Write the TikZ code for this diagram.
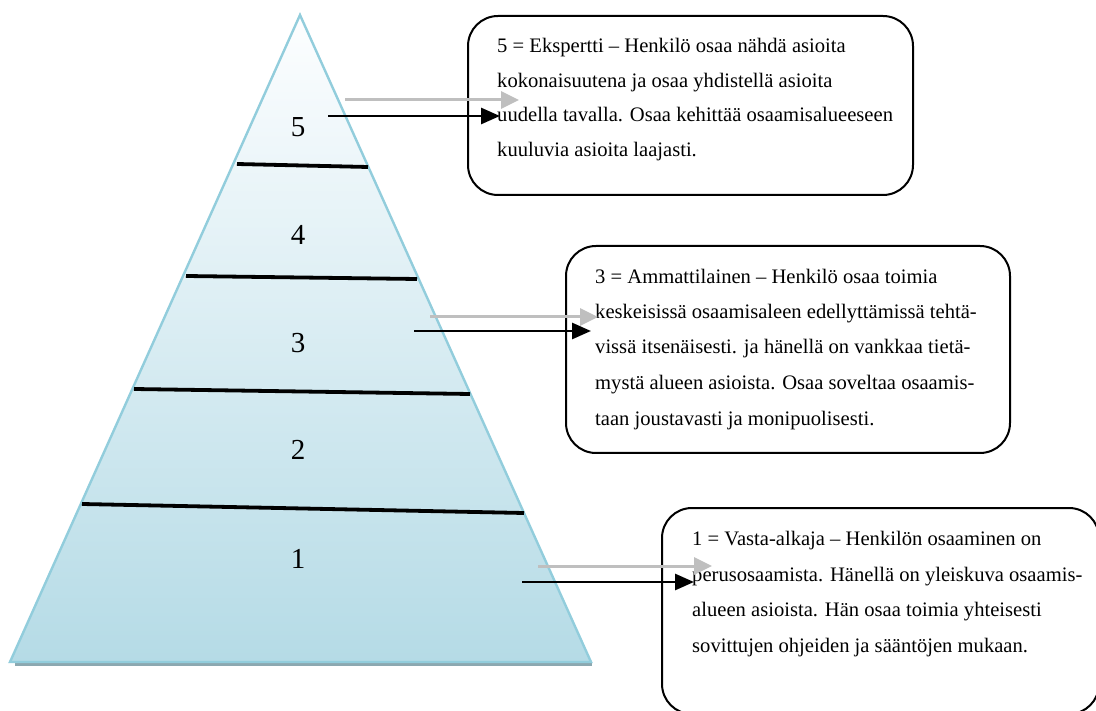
\documentclass[tikz,border=0pt]{standalone}
\usepackage{fontspec}
\setmainfont{Liberation Serif}
\usetikzlibrary{arrows.meta}
\definecolor{pyrtop}{RGB}{253,254,255}
\definecolor{pyrbot}{RGB}{181,219,230}
\definecolor{pyredge}{RGB}{146,205,220}
\definecolor{pyrshadow}{RGB}{140,168,176}
\definecolor{arrgray}{RGB}{191,191,191}
\tikzset{
  infobox/.style={draw=black, line width=2pt, rounded corners=30pt, fill=white, inner sep=0pt},
  bodytext/.style={anchor=base west, inner sep=0pt, font=\fontsize{20.6}{24}\selectfont},
  levelnum/.style={anchor=base, inner sep=0pt, font=\fontsize{29}{30}\selectfont},
  divider/.style={line width=3.8pt, black},
  grayarrow/.style={arrgray, line width=3pt, -{Triangle[length=18pt,width=17pt]}},
  blackarrow/.style={black, line width=2.8pt, -{Triangle[length=19pt,width=16pt]}}
}
\begin{document}
\begin{tikzpicture}[x=1pt,y=-1pt]
\useasboundingbox (0,0) rectangle (1096,711);
\clip (0,0) rectangle (1096,711);
% pyramid
\fill[pyrshadow] (15,661) rectangle (592,666);
\shade[top color=pyrtop, bottom color=pyrbot] (300,15) -- (591,662) -- (10,662) -- cycle;
\draw[pyredge, line width=2.4pt, line join=miter] (300,15) -- (591,662) -- (10,662) -- cycle;
\coordinate (d5l) at (237,164); \coordinate (d5r) at (368,167);
\coordinate (d4l) at (186,276); \coordinate (d4r) at (417,279);
\coordinate (d3l) at (134,389); \coordinate (d3r) at (470,394);
\coordinate (d2l) at (82,504);  \coordinate (d2r) at (524,513);
\draw[divider] (d5l) -- (d5r);
\draw[divider] (d4l) -- (d4r);
\draw[divider] (d3l) -- (d3r);
\draw[divider] (d2l) -- (d2r);
\node[levelnum] (n5) at (298,137) {5};
\node[levelnum] (n4) at (298,245) {4};
\node[levelnum] (n3) at (298,353) {3};
\node[levelnum] (n2) at (298,460) {2};
\node[levelnum] (n1) at (298,568) {1};
% boxes
\node[infobox, minimum width=445pt, minimum height=179pt] (b5) at (690.5,105.5) {};
\node[infobox, minimum width=444pt, minimum height=207pt] (b3) at (788,349.5) {};
\node[infobox, minimum width=437pt, minimum height=206pt] (b1) at (880.5,611) {};
% texts
\node[bodytext] (t5a) at (497,53) {5 = Ekspertti – Henkilö osaa nähdä asioita};
\node[bodytext] (t5b) at (497,88) {kokonaisuutena ja osaa yhdistellä asioita};
\node[bodytext] (t5c) at (497,122) {uudella tavalla. Osaa kehittää osaamisalueeseen};
\node[bodytext] (t5d) at (497,157) {kuuluvia asioita laajasti.};
\node[bodytext] (t3a) at (595,284) {3 = Ammattilainen – Henkilö osaa toimia};
\node[bodytext] (t3b) at (595,319) {keskeisissä osaamisaleen edellyttämissä tehtä-};
\node[bodytext] (t3c) at (595,354) {vissä itsenäisesti. ja hänellä on vankkaa tietä-};
\node[bodytext] (t3d) at (595,390) {mystä alueen asioista. Osaa soveltaa osaamis-};
\node[bodytext] (t3e) at (595,426) {taan joustavasti ja monipuolisesti.};
\node[bodytext] (t1a) at (692,545) {1 = Vasta-alkaja – Henkilön osaaminen on};
\node[bodytext] (t1b) at (692,581) {perusosaamista. Hänellä on yleiskuva osaamis-};
\node[bodytext] (t1c) at (692,616) {alueen asioista. Hän osaa toimia yhteisesti};
\node[bodytext] (t1d) at (692,652) {sovittujen ohjeiden ja sääntöjen mukaan.};
% arrows
\coordinate (g5s) at (345,100); \coordinate (g5e) at (519,100);
\coordinate (k5s) at (328,116); \coordinate (k5e) at (500,116);
\coordinate (g3s) at (430,317); \coordinate (g3e) at (598,317);
\coordinate (k3s) at (414,331); \coordinate (k3e) at (591,331);
\coordinate (g1s) at (538,566); \coordinate (g1e) at (712,566);
\coordinate (k1s) at (522,582); \coordinate (k1e) at (694,582);
\draw[grayarrow] (g5s) -- (g5e);
\draw[blackarrow] (k5s) -- (k5e);
\draw[grayarrow] (g3s) -- (g3e);
\draw[blackarrow] (k3s) -- (k3e);
\draw[grayarrow] (g1s) -- (g1e);
\draw[blackarrow] (k1s) -- (k1e);
\end{tikzpicture}
\end{document}
